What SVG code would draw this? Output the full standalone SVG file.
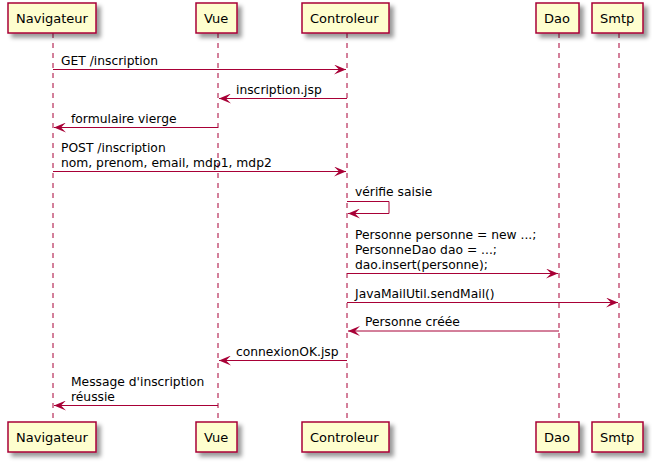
<svg xmlns="http://www.w3.org/2000/svg" width="652" height="462" viewBox="0 0 652 462">
<defs>
<filter id="sh" x="-20%" y="-20%" width="150%" height="160%">
<feGaussianBlur in="SourceAlpha" stdDeviation="2"/>
<feOffset dx="4" dy="4" result="b"/>
<feColorMatrix in="b" type="matrix" values="0 0 0 0 0  0 0 0 0 0  0 0 0 0 0  0 0 0 0.4 0"/>
<feMerge><feMergeNode/><feMergeNode in="SourceGraphic"/></feMerge>
</filter>
<marker id="ah" markerUnits="userSpaceOnUse" markerWidth="12" markerHeight="10" refX="12" refY="5" orient="auto">
<path d="M0,0 L12,5 L0,10 L5,5 Z" fill="#A80036"/>
</marker>
</defs>
<style>
.box{fill:#FEFECE;stroke:#A80036;stroke-width:1.5;filter:url(#sh)}
.life{stroke:#A80036;stroke-width:1;stroke-dasharray:5,5;fill:none}
.pt{font-family:"DejaVu Sans",sans-serif;font-size:13px;fill:#000}
.msg{font-family:"DejaVu Sans",sans-serif;font-size:12.3px;fill:#000}
.arr{stroke:#A80036;stroke-width:1;fill:none;marker-end:url(#ah)}
</style>
<rect width="652" height="462" fill="#FFFFFF"/>
<g id="lifelines">
<line class="life" x1="53" y1="33" x2="53" y2="422"/>
<line class="life" x1="218" y1="33" x2="218" y2="422"/>
<line class="life" x1="347" y1="33" x2="347" y2="422"/>
<line class="life" x1="559" y1="33" x2="559" y2="422"/>
<line class="life" x1="619" y1="33" x2="619" y2="422"/>
</g>
<g id="Navigateur">
<rect class="box" x="8" y="3" width="88" height="30"/>
<text class="pt" x="16" y="23">Navigateur</text>
<rect class="box" x="8" y="422" width="88" height="30"/>
<text class="pt" x="16" y="442">Navigateur</text>
</g>
<g id="Vue">
<rect class="box" x="196" y="3" width="41" height="30"/>
<text class="pt" x="204" y="23">Vue</text>
<rect class="box" x="196" y="422" width="41" height="30"/>
<text class="pt" x="204" y="442">Vue</text>
</g>
<g id="Controleur">
<rect class="box" x="302" y="3" width="87" height="30"/>
<text class="pt" x="310" y="23">Controleur</text>
<rect class="box" x="302" y="422" width="87" height="30"/>
<text class="pt" x="310" y="442">Controleur</text>
</g>
<g id="Dao">
<rect class="box" x="536" y="3" width="43" height="30"/>
<text class="pt" x="544" y="23">Dao</text>
<rect class="box" x="536" y="422" width="43" height="30"/>
<text class="pt" x="544" y="442">Dao</text>
</g>
<g id="Smtp">
<rect class="box" x="592" y="3" width="51" height="30"/>
<text class="pt" x="600" y="23">Smtp</text>
<rect class="box" x="592" y="422" width="51" height="30"/>
<text class="pt" x="600" y="442">Smtp</text>
</g>
<g id="connectors">
<line class="arr" x1="53" y1="69.5" x2="346" y2="69.5"/>
<text class="msg" x="61" y="64.5">GET /inscription</text>
<line class="arr" x1="347" y1="98.5" x2="219" y2="98.5"/>
<text class="msg" x="236" y="93.5">inscription.jsp</text>
<line class="arr" x1="218" y1="127.5" x2="54" y2="127.5"/>
<text class="msg" x="71" y="122.5">formulaire vierge</text>
<line class="arr" x1="53" y1="171.5" x2="346" y2="171.5"/>
<text class="msg" x="61" y="152">POST /inscription</text>
<text class="msg" x="61" y="166.5">nom, prenom, email, mdp1, mdp2</text>
<polyline class="arr" points="347,201.5 389,201.5 389,213.5 348,213.5"/>
<text class="msg" x="355" y="195.5">vérifie saisie</text>
<line class="arr" x1="347" y1="273.5" x2="558" y2="273.5"/>
<text class="msg" x="355" y="238.5">Personne personne = new ...;</text>
<text class="msg" x="355" y="253.5">PersonneDao dao = ...;</text>
<text class="msg" x="355" y="268.5">dao.insert(personne);</text>
<line class="arr" x1="347" y1="302.5" x2="618" y2="302.5"/>
<text class="msg" x="355" y="297.5">JavaMailUtil.sendMail()</text>
<line class="arr" x1="559" y1="331" x2="348" y2="331"/>
<text class="msg" x="365" y="326">Personne créée</text>
<line class="arr" x1="347" y1="360.5" x2="219" y2="360.5"/>
<text class="msg" x="236" y="355.5">connexionOK.jsp</text>
<line class="arr" x1="218" y1="405.5" x2="54" y2="405.5"/>
<text class="msg" x="71" y="386">Message d'inscription</text>
<text class="msg" x="71" y="400.5">réussie</text>
</g>
</svg>
